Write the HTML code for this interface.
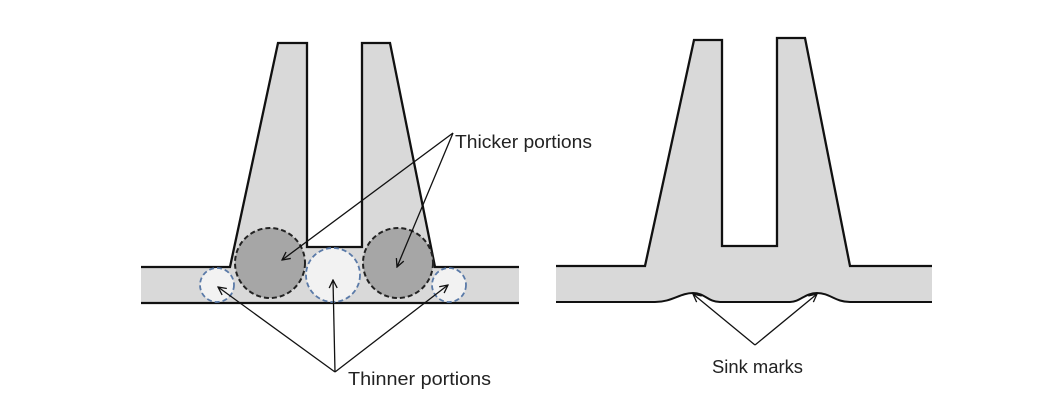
<!DOCTYPE html>
<html><head><style>body{margin:0;background:#fff}svg{display:block}text{font-family:"Liberation Sans",sans-serif;font-size:18px;fill:#222}</style></head><body>
<svg width="1038" height="410" viewBox="0 0 1038 410">
<defs><marker id="a" markerWidth="10" markerHeight="10" refX="9" refY="5" orient="auto" markerUnits="userSpaceOnUse"><path d="M1,1 L9,5 L1,9" fill="none" stroke="#111" stroke-width="1.3"/></marker></defs>
<path d="M141,267 L230,267 L278,43 L307,43 L307,247 L362,247 L362,43 L390,43 L435,267 L519,267 L519,303 L141,303 Z" fill="#d9d9d9"/>
<path d="M141,267 L230,267 L278,43 L307,43 L307,247 L362,247 L362,43 L390,43 L435,267 L519,267" fill="none" stroke="#111" stroke-width="2.3"/>
<line x1="141" y1="303" x2="519" y2="303" stroke="#111" stroke-width="2.3"/>
<circle cx="270" cy="263" r="35" fill="#a6a6a6" stroke="#222" stroke-width="2" stroke-dasharray="5,3"/>
<circle cx="398" cy="263" r="35" fill="#a6a6a6" stroke="#222" stroke-width="2" stroke-dasharray="5,3"/>
<circle cx="217" cy="285" r="17" fill="#f2f2f2" stroke="#5a7aa8" stroke-width="1.8" stroke-dasharray="5,3"/>
<circle cx="333" cy="275" r="27" fill="#f2f2f2" stroke="#5a7aa8" stroke-width="1.8" stroke-dasharray="5,3"/>
<circle cx="449" cy="285" r="17" fill="#f2f2f2" stroke="#5a7aa8" stroke-width="1.8" stroke-dasharray="5,3"/>
<g stroke="#111" stroke-width="1.3" fill="none" marker-end="url(#a)">
<line x1="453" y1="133" x2="282" y2="260"/>
<line x1="453" y1="133" x2="397" y2="267"/>
<line x1="335" y1="372" x2="218" y2="287"/>
<line x1="335" y1="372" x2="333" y2="280"/>
<line x1="335" y1="372" x2="448" y2="285"/>
</g>
<text x="455" y="148" textLength="137" lengthAdjust="spacingAndGlyphs">Thicker portions</text>
<text x="348" y="385" textLength="143" lengthAdjust="spacingAndGlyphs">Thinner portions</text>
<path d="M556,266 L645,266 L694,40 L722,40 L722,246 L777,246 L777,38 L805,38 L850,266 L932,266 L932,302 L850,302 C835,302 830,293 817,293 C805,293 800,302 790,302 L720,302 C708,302 705,293 693,293 C680,293 672,302 655,302 L556,302 Z" fill="#d9d9d9"/>
<path d="M556,266 L645,266 L694,40 L722,40 L722,246 L777,246 L777,38 L805,38 L850,266 L932,266" fill="none" stroke="#111" stroke-width="2.3"/>
<path d="M556,302 L655,302 C672,302 680,293 693,293 C705,293 708,302 720,302 L790,302 C800,302 805,293 817,293 C830,293 835,302 850,302 L932,302" fill="none" stroke="#111" stroke-width="2"/>
<g stroke="#111" stroke-width="1.3" fill="none" marker-end="url(#a)">
<line x1="755" y1="345" x2="693" y2="294"/>
<line x1="755" y1="345" x2="817" y2="294"/>
</g>
<text x="712" y="373" textLength="91" lengthAdjust="spacingAndGlyphs">Sink marks</text>
</svg>
</body></html>
